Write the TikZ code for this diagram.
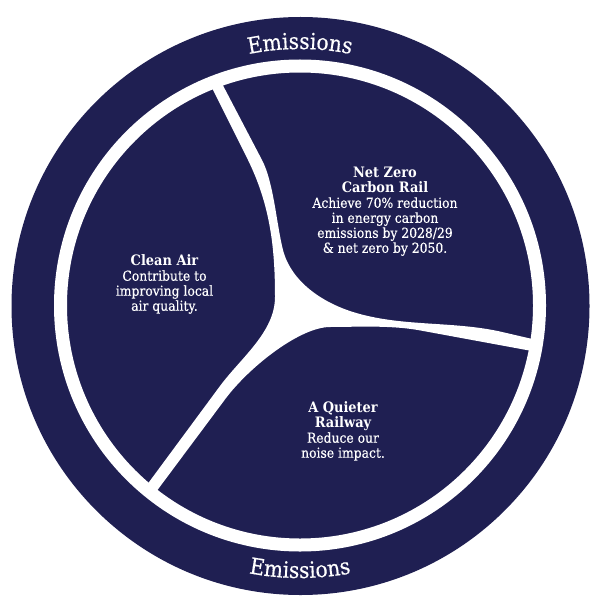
\documentclass[tikz,border=0pt]{standalone}
\usepackage{fontspec}
\setmainfont{DejaVu Serif}[FakeStretch=0.9, UprightFeatures={FakeBold=0.4}]
\usetikzlibrary{decorations.text}
\definecolor{navy}{RGB}{31,31,82}
\newcommand{\ttl}[1]{{\fontsize{10.8}{11.25}\selectfont\bfseries #1}}
\begin{document}
\begin{tikzpicture}[x=0.75pt,y=-0.75pt,
  region/.style={font=\fontsize{10.3}{11.25}\selectfont, text=white, align=center, inner sep=0pt, anchor=north},
  ringtext/.style={decorate, decoration={text along path, text align=center, text color=white,
      text={|\fontsize{16.8}{16.8}\selectfont|Emissions}}}]
\useasboundingbox (0,0) rectangle (600,613);
\fill[white] (0,0) rectangle (600,613);
\coordinate (c) at (300,305.5);
% outer navy disk
\fill[navy] (300.5,306) circle[radius=289];
% white ring
\draw[white, line width=9.75pt] (c) circle[radius=239.5];
% white spokes and junction
\begin{scope}
\clip (c) circle[radius=240];
\fill[white]
  (204,72) -- (248,160)
  .. controls (270,205) and (275,247) .. (275,297)
  .. controls (275,332) and (240.8,357.9) .. (220,386)
  -- (138,497) -- (150,500) -- (225.3,399)
  .. controls (249.2,366.9) and (300,327) .. (330,327)
  .. controls (355,327) and (390.5,324.9) .. (420,330.4)
  -- (546,353.6) -- (546,342.2) -- (500,331.5)
  .. controls (451.2,320.8) and (400.9,327) .. (353,312)
  .. controls (321.9,302.25) and (291.1,281.5) .. (283,250)
  .. controls (276.75,225.75) and (273.7,182.1) .. (262,160)
  -- (217,74) -- cycle;
\end{scope}
% curved ring labels
\path[ringtext] (43.5,305.5) arc[start angle=180, end angle=360, radius=256.5];
\path[ringtext] (27.5,305.5) arc[start angle=180, end angle=0, radius=272.5];
% region texts
\node[region] (netzero) at (385,167) {\ttl{Net Zero}\\\ttl{Carbon Rail}\\Achieve 70\% reduction\\in energy carbon\\emissions by 2028/29\\\& net zero by 2050.};
\node[region] (cleanair) at (164.5,254.5) {\ttl{Clean Air}\\Contribute to\\improving local\\air quality.};
\node[region] (quieter) at (343,401.5) {\ttl{A Quieter}\\\ttl{Railway}\\Reduce our\\noise impact.};
\end{tikzpicture}
\end{document}
